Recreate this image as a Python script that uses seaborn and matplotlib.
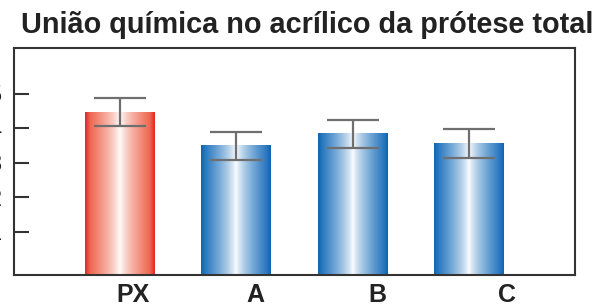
import numpy as np
import pandas as pd
import matplotlib
matplotlib.use("Agg")
import matplotlib.pyplot as plt
import seaborn as sns
from matplotlib.colors import to_rgb

# data
categories = ["PX", "A", "B", "C"]
values = [4.46, 3.48, 3.83, 3.54]
errors = [0.40, 0.40, 0.40, 0.42]
y_ticks = [1, 2, 3, 4, 5]
title = "União química no acrílico da prótese total"

# look
mid_colors = {"PX": "#ee6a52", "A": "#2f7cc2", "B": "#2f7cc2", "C": "#2f7cc2"}
edge_colors = {"PX": "#e0262a", "A": "#0d66b0", "B": "#0d66b0", "C": "#0d66b0"}
label_shift = [0.115, 0.161, 0.207, 0.322]
ymin, ymax = -0.26, 6.32

sns.set_theme(style="white")
plt.rcParams["font.family"] = ["Liberation Sans", "DejaVu Sans"]

df = pd.DataFrame({"cat": categories, "val": values})

fig = plt.figure(figsize=(6.05, 3.08), dpi=100)
ax = fig.add_axes([14 / 605, 1 - 275 / 308, 561 / 605, 227 / 308])

sns.barplot(data=df, x="cat", y="val", hue="cat", palette=mid_colors,
            width=0.6, legend=False, ax=ax, errorbar=None)


def gradient_row(name, n=200):
    t = np.abs(np.linspace(-1, 1, n))
    white = np.array([1.0, 1.0, 1.0])
    mid = np.array(to_rgb(mid_colors[name]))
    edge = np.array(to_rgb(edge_colors[name]))
    f = np.clip(t / 0.85, 0, 1) ** 0.75
    col = white[None, :] * (1 - f[:, None]) + mid[None, :] * f[:, None]
    g = np.clip((t - 0.85) / 0.15, 0, 1)
    col = col * (1 - g[:, None]) + edge[None, :] * g[:, None]
    return col[None, :, :]


for patch, name in zip(ax.patches, categories):
    x0 = patch.get_x()
    w = patch.get_width()
    top = patch.get_height()
    patch.set_visible(False)
    ax.imshow(gradient_row(name), extent=[x0, x0 + w, ymin, top],
              aspect="auto", interpolation="bilinear", zorder=2)

xs = np.arange(len(categories))
ax.errorbar(xs, values, yerr=errors, fmt="none", ecolor="#6f6f6f",
            elinewidth=1.6, capsize=19, capthick=1.6, zorder=3)

ax.set_xlim(-0.906, 3.906)
ax.set_ylim(ymin, ymax)
ax.set_yticks(y_ticks)
ax.set_yticklabels([str(v) for v in y_ticks], fontsize=17, color="#222222")
ax.set_xticks(xs + np.array(label_shift))
ax.set_xticklabels(categories, fontsize=18, fontweight="bold", color="#222222")
ax.tick_params(axis="y", direction="in", length=10.5, width=1.5,
               color="#333333", pad=9, left=True)
ax.tick_params(axis="x", length=0, pad=6)
ax.set_xlabel("")
ax.set_ylabel("")
for s in ax.spines.values():
    s.set_visible(True)
    s.set_color("#333333")
    s.set_linewidth(1.5)

fig.text(307 / 605, 1 - 33 / 308, title, ha="center", va="baseline",
         fontsize=20.8, fontweight="bold", color="#222222")

fig.savefig("out.png", dpi=100)
